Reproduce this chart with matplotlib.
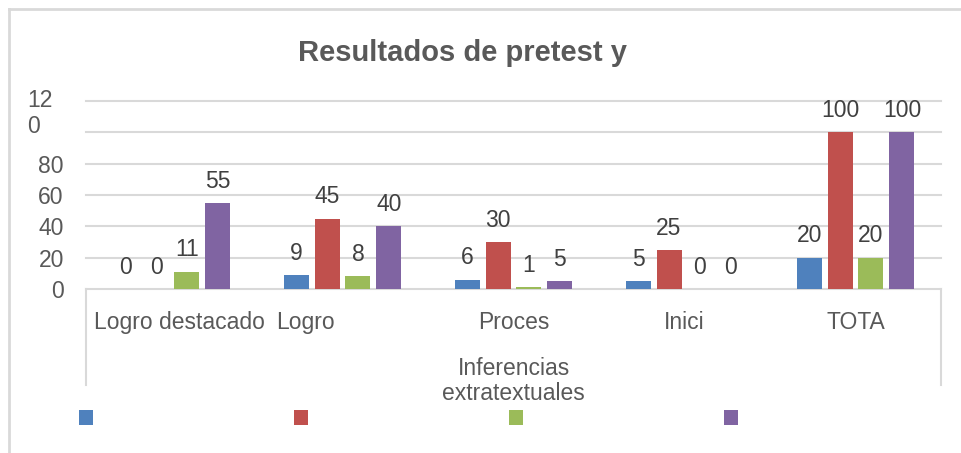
import matplotlib
matplotlib.use("Agg")
import matplotlib.pyplot as plt
import matplotlib.transforms as mtransforms
from matplotlib.patches import Patch
from matplotlib.lines import Line2D
import numpy as np

plt.rcParams['font.family'] = ['Liberation Sans', 'DejaVu Sans']

# ---------------- data ----------------
categories = ["Logro destacado", "Logro", "Proces", "Inici", "TOTA"]
group_label = "Inferencias\nextratextuales"
title = "Resultados de pretest y"
series_blue = [0, 9, 6, 5, 20]
series_red = [0, 45, 30, 25, 100]
series_green = [11, 8, 1, 0, 20]
series_purple = [55, 40, 5, 0, 100]
y_ticks = [0, 20, 40, 60, 80, 100]
y_tick_labels = ["0", "20", "40", "60", "80", ""]
top_tick_label = "12\n0"

series = [series_blue, series_red, series_green, series_purple]
colors = ["#4F81BD", "#C0504D", "#9BBB59", "#8064A2"]
label_color = "#404040"
axis_text = "#595959"
grid_color = "#D9D9D9"
FS = 16.5

W, H = 961, 453
fig = plt.figure(figsize=(W / 100, H / 100), dpi=100)
ax = fig.add_axes([86 / W, 164 / H, 855 / W, 188 / H])

x = np.arange(len(categories))
step = 0.181
width = 0.146
for j, (vals, c) in enumerate(zip(series, colors)):
    pos = x + (j - 1.5) * step
    ax.bar(pos, vals, width=width, color=c, zorder=3)
    for p, v in zip(pos, vals):
        ax.annotate(str(v), (p, v), xytext=(0, 11), textcoords="offset points",
                    ha="center", va="baseline", fontsize=FS, color=label_color,
                    zorder=4)

ax.set_xlim(-0.5, len(categories) - 0.5)
ax.set_ylim(0, 120)

# grid
for g in [20, 40, 60, 80, 100, 120]:
    ax.axhline(g, color=grid_color, lw=1.5, zorder=1, clip_on=False)

for s in ["top", "right", "left"]:
    ax.spines[s].set_visible(False)
ax.spines["bottom"].set_color(grid_color)
ax.spines["bottom"].set_linewidth(1.5)

ax.set_yticks(y_ticks)
ax.set_yticklabels(y_tick_labels, fontsize=FS, color=axis_text)
ax.tick_params(axis="y", length=0, pad=16)
ax.text(-33 / 855, 112, top_tick_label,
        transform=mtransforms.blended_transform_factory(ax.transAxes, ax.transData),
        ha="right", va="center", multialignment="left", fontsize=FS, color=axis_text,
        linespacing=1.15)

ax.set_xticks(x)
ax.set_xticklabels(categories, fontsize=FS, color=axis_text)
ax.tick_params(axis="x", length=0, pad=16)
shifts = [8, -37, 0, 0, 0]
for lbl, dx in zip(ax.get_xticklabels(), shifts):
    lbl.set_transform(lbl.get_transform() + mtransforms.ScaledTranslation(dx / 100, 0, fig.dpi_scale_trans))

# bracket lines of the category axis
depth = (385 - 289) / 188
for xa in [0, 1]:
    ax.add_line(Line2D([xa, xa], [0, -depth], transform=ax.transAxes, color=grid_color,
                       lw=1.5, clip_on=False))

ax.text(0.5, -(381 - 289) / 188, group_label, transform=ax.transAxes, ha="center", va="center",
        fontsize=FS, color=axis_text, linespacing=1.1)

# title
fig.text(463 / W, 1 - 61 / H, title, ha="center", va="baseline", fontsize=21,
         fontweight="bold", color=axis_text)

# legend (series without names)
handles = [Patch(facecolor=c, edgecolor="none") for c in colors]
fig.legend(handles, ["", "", "", ""], ncol=4, loc="center left",
           bbox_to_anchor=(79 / W, 1 - 419 / H), frameon=False, fontsize=FS,
           handlelength=14 / (FS * 100 / 72), handleheight=14 / (FS * 100 / 72),
           handletextpad=0, columnspacing=201 / (FS * 100 / 72),
           borderpad=0, borderaxespad=0)

# outer chart border (left and top)
fig.add_artist(Line2D([8.5 / W, 8.5 / W], [0, 1 - 8.5 / H], transform=fig.transFigure,
                      color=grid_color, lw=2))
fig.add_artist(Line2D([8.5 / W, 1], [1 - 8.5 / H, 1 - 8.5 / H], transform=fig.transFigure,
                      color=grid_color, lw=2))

fig.savefig("out.png", dpi=100)
